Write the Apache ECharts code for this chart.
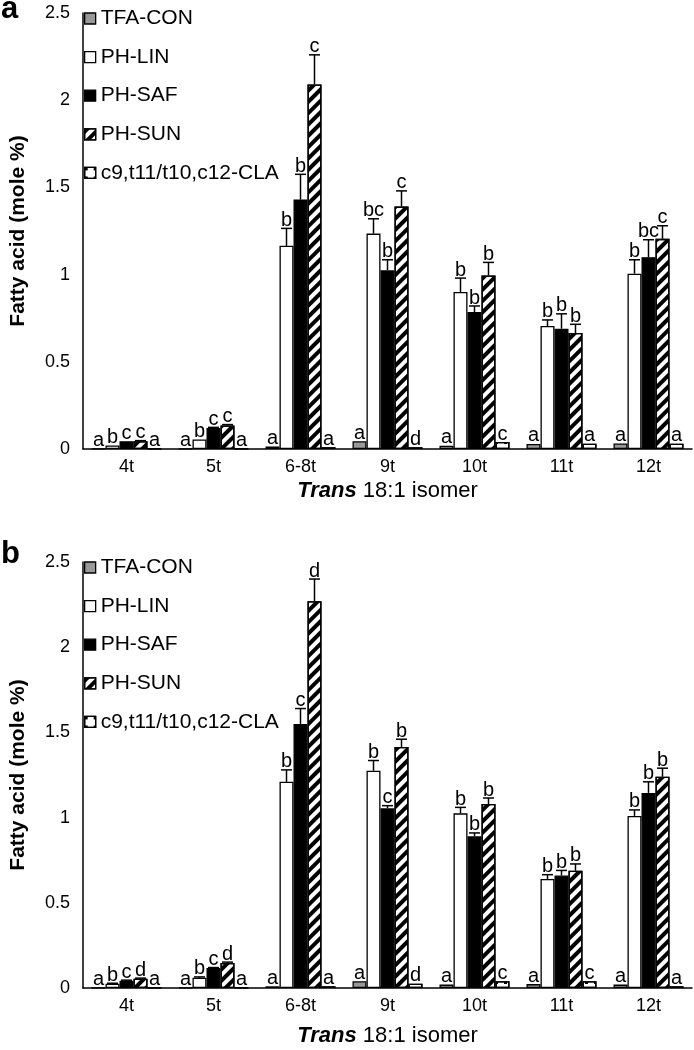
<!DOCTYPE html>
<html><head><meta charset="utf-8">
<script src="https://cdn.jsdelivr.net/npm/echarts@6/dist/echarts.min.js"></script>
<style>html,body{margin:0;padding:0;background:#fff}#c{width:694px;height:1050px}</style>
</head><body><div id="c"></div>
<script>
const categories = ['4t', '5t', '6-8t', '9t', '10t', '11t', '12t'];
const seriesNames = ['TFA-CON', 'PH-LIN', 'PH-SAF', 'PH-SUN', 'c9,t11/t10,c12-CLA'];
const yTicks = [0, 0.5, 1, 1.5, 2, 2.5];

// Panel a values (mole %)
const aTFA = [0.002, 0.002, 0.015, 0.045, 0.019, 0.029, 0.032];
const aLIN = [0.02, 0.055, 1.165, 1.235, 0.90, 0.705, 1.005];
const aSAF = [0.045, 0.12, 1.43, 1.025, 0.785, 0.69, 1.10];
const aSUN = [0.045, 0.135, 2.09, 1.39, 0.995, 0.665, 1.205];
const aCLA = [0.002, 0.002, 0.01, 0.01, 0.04, 0.03, 0.03];
// Panel a errors
const aTFAerr = [0, 0, 0, 0, 0, 0, 0];
const aLINerr = [0, 0, 0.10, 0.085, 0.08, 0.035, 0.08];
const aSAFerr = [0, 0.004, 0.145, 0.06, 0.035, 0.085, 0.10];
const aSUNerr = [0.003, 0.005, 0.17, 0.09, 0.075, 0.05, 0.075];
const aCLAerr = [0, 0, 0, 0, 0, 0, 0];
// Panel a letters
const aTFAlet = ['a', 'a', 'a', 'a', 'a', 'a', 'a'];
const aLINlet = ['b', 'b', 'b', 'bc', 'b', 'b', 'b'];
const aSAFlet = ['c', 'c', 'b', 'b', 'b', 'b', 'bc'];
const aSUNlet = ['c', 'c', 'c', 'c', 'b', 'b', 'c'];
const aCLAlet = ['a', 'a', 'a', 'd', 'c', 'a', 'a'];

// Panel b values (mole %)
const bTFA = [0.002, 0.002, 0.01, 0.04, 0.02, 0.023, 0.02];
const bLIN = [0.025, 0.06, 1.21, 1.275, 1.025, 0.64, 1.01];
const bSAF = [0.043, 0.117, 1.55, 1.055, 0.89, 0.66, 1.145];
const bSUN = [0.055, 0.147, 2.27, 1.415, 1.08, 0.688, 1.24];
const bCLA = [0.002, 0.002, 0.01, 0.025, 0.04, 0.04, 0.01];
// Panel b errors
const bTFAerr = [0, 0, 0, 0, 0, 0, 0];
const bLINerr = [0.003, 0.005, 0.07, 0.06, 0.035, 0.025, 0.035];
const bSAFerr = [0.003, 0.003, 0.09, 0.015, 0.02, 0.03, 0.065];
const bSUNerr = [0.003, 0.005, 0.13, 0.045, 0.035, 0.04, 0.05];
const bCLAerr = [0, 0, 0, 0, 0, 0, 0];
// Panel b letters
const bTFAlet = ['a', 'a', 'a', 'a', 'a', 'a', 'a'];
const bLINlet = ['b', 'b', 'b', 'b', 'b', 'b', 'b'];
const bSAFlet = ['c', 'c', 'c', 'c', 'b', 'b', 'b'];
const bSUNlet = ['d', 'd', 'd', 'b', 'b', 'b', 'b'];
const bCLAlet = ['a', 'a', 'a', 'd', 'c', 'c', 'a'];

const FONT = "'Liberation Sans', Arial, Helvetica, sans-serif";
const BW = 14;

const styles = [
  { color: '#999999', borderColor: '#000', borderWidth: 1.3 },
  { color: '#ffffff', borderColor: '#000', borderWidth: 1.3 },
  { color: '#000000', borderColor: '#000', borderWidth: 1.3 },
  { color: '#ffffff', borderColor: '#000', borderWidth: 1.3,
    decal: { symbol: 'rect', symbolSize: 1, color: '#000', dashArrayX: [1, 0], dashArrayY: [4, 3.5], rotation: -Math.PI / 4 } },
  { color: '#ffffff', borderColor: '#000', borderWidth: 1.3,
    decal: { symbol: 'rect', symbolSize: 1, color: '#000', dashArrayX: [3, 6], dashArrayY: [3, 6], rotation: 0 } }
];

const panels = [
  { vals: [aTFA, aLIN, aSAF, aSUN, aCLA], errs: [aTFAerr, aLINerr, aSAFerr, aSUNerr, aCLAerr], lets: [aTFAlet, aLINlet, aSAFlet, aSUNlet, aCLAlet] },
  { vals: [bTFA, bLIN, bSAF, bSUN, bCLA], errs: [bTFAerr, bLINerr, bSAFerr, bSUNerr, bCLAerr], lets: [bTFAlet, bLINlet, bSAFlet, bSUNlet, bCLAlet] }
];

const series = [];
panels.forEach((p, pi) => {
  for (let s = 0; s < 5; s++) {
    series.push({
      name: seriesNames[s], type: 'bar', xAxisIndex: pi, yAxisIndex: pi,
      barWidth: BW, barGap: '0%', data: p.vals[s], itemStyle: styles[s], z: 2,
      emphasis: { disabled: true }, silent: true
    });
  }
  const items = [];
  for (let s = 0; s < 5; s++) for (let c = 0; c < categories.length; c++) {
    items.push({ c, s, v: p.vals[s][c], e: p.errs[s][c], t: p.lets[s][c] });
  }
  series.push({
    type: 'custom', xAxisIndex: pi, yAxisIndex: pi, z: 5, silent: true,
    data: items.map(it => [it.c, it.v + it.e]),
    encode: { x: 0, y: 1 },
    renderItem: function (params, api) {
      const it = items[params.dataIndex];
      const p0 = api.coord([it.c, it.v]);
      const x = p0[0] + (it.s - 2) * BW;
      const children = [];
      let topY = p0[1];
      if (it.e > 0) {
        const p1 = api.coord([it.c, it.v + it.e]);
        topY = p1[1];
        children.push({ type: 'line', shape: { x1: x, y1: p0[1], x2: x, y2: p1[1] }, style: { stroke: '#000', lineWidth: 1.5 } });
        children.push({ type: 'line', shape: { x1: x - 5.5, y1: p1[1], x2: x + 5.5, y2: p1[1] }, style: { stroke: '#000', lineWidth: 1.5 } });
      }
      children.push({ type: 'text', x: x, y: topY + 2, style: { text: it.t, align: 'center', verticalAlign: 'bottom', fontSize: 20, fontFamily: FONT, fill: '#000' } });
      return { type: 'group', children };
    }
  });
});

const grids = [
  { left: 69, right: 2, top: 13, height: 436 },
  { left: 69, right: 2, top: 562, height: 426 }
];

const xAxes = grids.map((g, i) => ({
  type: 'category', gridIndex: i, data: categories,
  axisLine: { lineStyle: { color: '#000', width: 1.5 } },
  axisTick: { show: false },
  axisLabel: { color: '#000', fontSize: 18, fontFamily: FONT, margin: 9 },
  name: '{b|Trans} 18:1 isomer', nameLocation: 'middle', nameGap: i === 0 ? 31 : 37,
  nameTextStyle: { color: '#000', fontSize: 22, fontFamily: FONT,
    rich: { b: { fontWeight: 'bold', fontStyle: 'italic', fontSize: 22, fontFamily: FONT, color: '#000' } } }
}));

const yAxes = grids.map((g, i) => ({
  type: 'value', gridIndex: i, min: yTicks[0], max: yTicks[yTicks.length - 1], interval: 0.5,
  axisLine: { show: true, lineStyle: { color: '#000', width: 1.5 } },
  axisTick: { show: false }, splitLine: { show: false },
  axisLabel: { color: '#000', fontSize: 18, fontFamily: FONT, margin: 13 },
  name: 'Fatty acid (mole %)', nameLocation: 'middle', nameGap: 54,
  nameTextStyle: { color: '#000', fontSize: 21, fontWeight: 'bold', fontFamily: FONT }
}));

const legends = [3, 552].map(top => ({
  left: 79, top: top, orient: 'vertical', itemWidth: 11, itemHeight: 11, itemGap: 17.6,
  icon: 'rect', selectedMode: false, data: seriesNames,
  textStyle: { color: '#000', fontSize: 21, fontFamily: FONT, lineHeight: 21 },
  itemStyle: { borderColor: '#000', borderWidth: 1.3 }
}));

const chart = echarts.init(document.getElementById('c'), null, { renderer: 'canvas' });
chart.setOption({
  animation: false,
  backgroundColor: '#fff',
  grid: grids, xAxis: xAxes, yAxis: yAxes, legend: legends, series: series,
  graphic: [
    { type: 'text', x: 1, y: 25, style: { text: 'a', font: 'bold 31px ' + FONT, fill: '#000', verticalAlign: 'bottom' } },
    { type: 'text', x: 1, y: 570, style: { text: 'b', font: 'bold 31px ' + FONT, fill: '#000', verticalAlign: 'bottom' } }
  ]
});
</script></body></html>
